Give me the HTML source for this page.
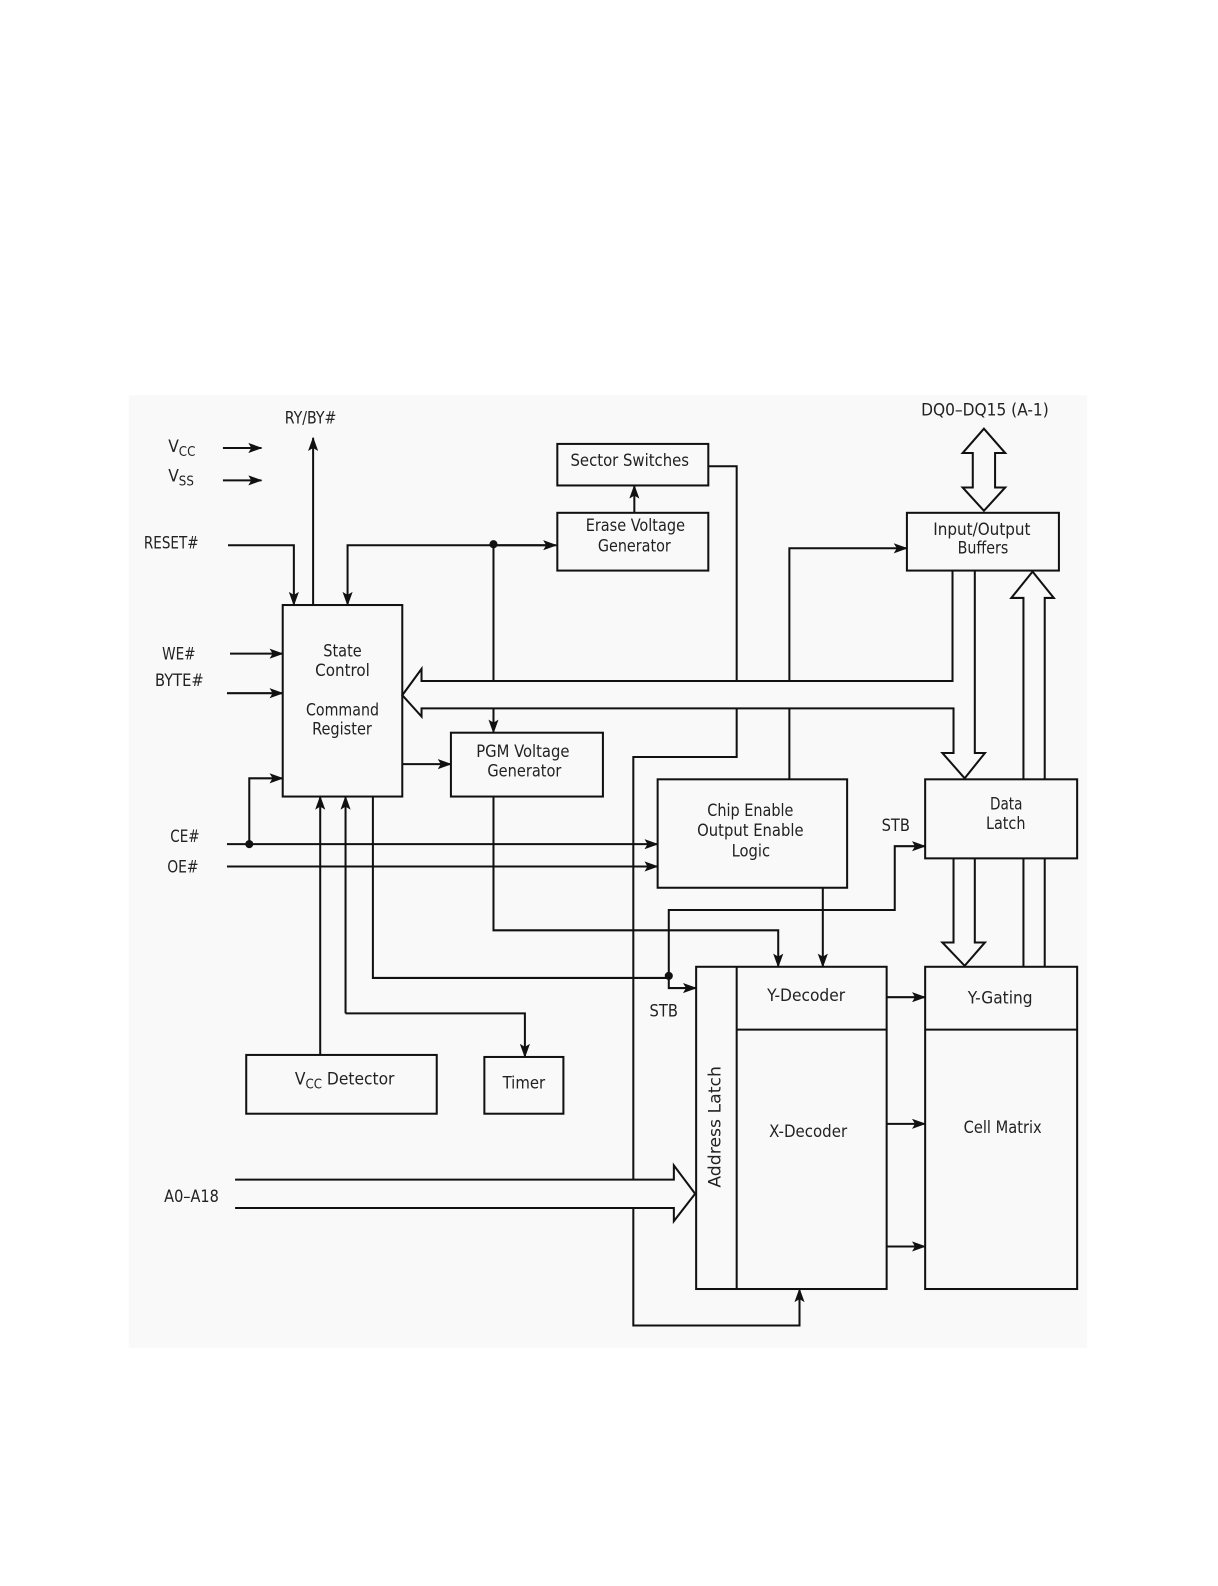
<!DOCTYPE html>
<html><head><meta charset="utf-8"><style>
html,body{margin:0;padding:0;background:#fff;}
svg{display:block;}
text{font-family:"DejaVu Sans Condensed","DejaVu Sans","Liberation Sans",sans-serif;font-size:17px;fill:#222;}
</style></head><body>
<svg width="1218" height="1586" viewBox="0 0 1202 1565" xmlns="http://www.w3.org/2000/svg">
<defs>
<marker id="a" markerUnits="userSpaceOnUse" markerWidth="14" markerHeight="10" refX="13" refY="5" orient="auto">
<path d="M0,0 L14,5 L0,10 L3,5 Z" fill="#111"/></marker>
</defs>
<rect x="127" y="390" width="946" height="940" fill="#f9f9f9"/>
<g fill="none" stroke="#111" stroke-width="2">
<!-- boxes -->
<rect x="279" y="597" width="118" height="189"/>
<rect x="550" y="438" width="149" height="41"/>
<rect x="550" y="506" width="149" height="57"/>
<rect x="445" y="723" width="150" height="63"/>
<rect x="649" y="769" width="187" height="107"/>
<rect x="895" y="506" width="150" height="57"/>
<rect x="913" y="769" width="150" height="78"/>
<rect x="687" y="954" width="188" height="318"/>
<line x1="727" y1="954" x2="727" y2="1272"/>
<line x1="727" y1="1016" x2="875" y2="1016"/>
<rect x="913" y="954" width="150" height="318"/>
<line x1="913" y1="1016" x2="1063" y2="1016"/>
<rect x="243" y="1041" width="188" height="58"/>
<rect x="478" y="1043" width="78" height="56"/>
<!-- simple arrows -->
<line x1="220" y1="442" x2="258" y2="442" marker-end="url(#a)"/>
<line x1="220" y1="474" x2="258" y2="474" marker-end="url(#a)"/>
<line x1="309" y1="597" x2="309" y2="432" marker-end="url(#a)"/>
<polyline points="225,538 290,538 290,597" marker-end="url(#a)"/>
<polyline points="547,538 343,538 343,597" marker-end="url(#a)" />
<line x1="487" y1="538" x2="549" y2="538" marker-end="url(#a)"/>
<line x1="487" y1="538" x2="487" y2="672"/>
<line x1="487" y1="699" x2="487" y2="723" marker-end="url(#a)"/>
<line x1="626" y1="506" x2="626" y2="479" marker-end="url(#a)"/>
<line x1="227" y1="645" x2="279" y2="645" marker-end="url(#a)"/>
<line x1="224" y1="684" x2="279" y2="684" marker-end="url(#a)"/>
<polyline points="246,833 246,768 279,768" marker-end="url(#a)"/>
<line x1="397" y1="754" x2="445" y2="754" marker-end="url(#a)"/>
<line x1="224" y1="833" x2="649" y2="833" marker-end="url(#a)"/>
<line x1="224" y1="855" x2="649" y2="855" marker-end="url(#a)"/>
<line x1="316" y1="1041" x2="316" y2="786" marker-end="url(#a)"/>
<line x1="341" y1="1000" x2="341" y2="786" marker-end="url(#a)"/>
<polyline points="341,1000 518,1000 518,1043" marker-end="url(#a)"/>
<polyline points="368,786 368,965 660,965"/>
<polyline points="660,965 660,898 883,898 883,835 913,835" marker-end="url(#a)"/>
<polyline points="660,965 660,975 687,975" marker-end="url(#a)"/>
<polyline points="487,786 487,918 768,918 768,954" marker-end="url(#a)"/>
<line x1="812" y1="876" x2="812" y2="954" marker-end="url(#a)"/>
<polyline points="779,672 779,541 895,541" marker-end="url(#a)"/>
<line x1="779" y1="699" x2="779" y2="769"/>
<polyline points="699,460 727,460 727,672"/>
<polyline points="727,699 727,747 625,747 625,1164"/>
<polyline points="625,1192 625,1308 789,1308 789,1272" marker-end="url(#a)"/>
<line x1="875" y1="984" x2="913" y2="984" marker-end="url(#a)"/>
<line x1="875" y1="1109" x2="913" y2="1109" marker-end="url(#a)"/>
<line x1="875" y1="1230" x2="913" y2="1230" marker-end="url(#a)"/>
<!-- bus to state control -->
<polyline points="940,563 940,672 416,672 416,660 397,686 416,707 416,699 941,699 941,743 930,743 952,768 972,743 962,743 962,563"/>
<!-- up bus data latch to IO -->
<polyline points="1010,769 1010,590 998,590 1019,564 1040,590 1031,590 1031,769"/>
<!-- DQ double arrow -->
<polygon points="971,423 992,447 982,447 982,481 992,481 971,504 950,481 960,481 960,447 950,447"/>
<!-- latch to Y-gating -->
<polyline points="941,847 941,930 930,930 952,953 972,930 962,930 962,847"/>
<line x1="1010" y1="847" x2="1010" y2="954"/>
<line x1="1031" y1="847" x2="1031" y2="954"/>
<!-- address bus -->
<polyline points="232,1164 665,1164 665,1150 686,1178 665,1205 665,1192 232,1192"/>
</g>
<circle cx="487" cy="537" r="4" fill="#111"/>
<circle cx="246" cy="833" r="4" fill="#111"/>
<circle cx="660" cy="963" r="4" fill="#111"/>
<!-- labels -->
<text x="281" y="418" textLength="51" lengthAdjust="spacingAndGlyphs">RY/BY#</text>
<text x="166" y="446">V<tspan font-size="13" dy="4">CC</tspan></text>
<text x="166" y="475">V<tspan font-size="13" dy="4">SS</tspan></text>
<text x="142" y="541" textLength="54" lengthAdjust="spacingAndGlyphs">RESET#</text>
<text x="160" y="651" textLength="33" lengthAdjust="spacingAndGlyphs">WE#</text>
<text x="153" y="677" textLength="48" lengthAdjust="spacingAndGlyphs">BYTE#</text>
<text x="168" y="831" textLength="29" lengthAdjust="spacingAndGlyphs">CE#</text>
<text x="165" y="861" textLength="31" lengthAdjust="spacingAndGlyphs">OE#</text>
<text x="162" y="1186" textLength="54" lengthAdjust="spacingAndGlyphs">A0–A18</text>
<text x="319" y="648" textLength="38" lengthAdjust="spacingAndGlyphs">State</text>
<text x="311" y="667" textLength="54" lengthAdjust="spacingAndGlyphs">Control</text>
<text x="302" y="706" textLength="72" lengthAdjust="spacingAndGlyphs">Command</text>
<text x="308" y="725" textLength="59" lengthAdjust="spacingAndGlyphs">Register</text>
<text x="563" y="460" textLength="117" lengthAdjust="spacingAndGlyphs">Sector Switches</text>
<text x="578" y="524" textLength="98" lengthAdjust="spacingAndGlyphs">Erase Voltage</text>
<text x="590" y="544" textLength="72" lengthAdjust="spacingAndGlyphs">Generator</text>
<text x="470" y="747" textLength="92" lengthAdjust="spacingAndGlyphs">PGM Voltage</text>
<text x="481" y="766" textLength="73" lengthAdjust="spacingAndGlyphs">Generator</text>
<text x="909" y="410" textLength="126" lengthAdjust="spacingAndGlyphs">DQ0–DQ15 (A-1)</text>
<text x="921" y="528" textLength="96" lengthAdjust="spacingAndGlyphs">Input/Output</text>
<text x="945" y="546" textLength="50" lengthAdjust="spacingAndGlyphs">Buffers</text>
<text x="698" y="805" textLength="85" lengthAdjust="spacingAndGlyphs">Chip Enable</text>
<text x="688" y="825" textLength="105" lengthAdjust="spacingAndGlyphs">Output Enable</text>
<text x="722" y="845" textLength="38" lengthAdjust="spacingAndGlyphs">Logic</text>
<text x="870" y="820" textLength="28" lengthAdjust="spacingAndGlyphs">STB</text>
<text x="977" y="799" textLength="32" lengthAdjust="spacingAndGlyphs">Data</text>
<text x="973" y="818" textLength="39" lengthAdjust="spacingAndGlyphs">Latch</text>
<text x="641" y="1003" textLength="28" lengthAdjust="spacingAndGlyphs">STB</text>
<text x="757" y="988" textLength="77" lengthAdjust="spacingAndGlyphs">Y-Decoder</text>
<text x="759" y="1122" textLength="77" lengthAdjust="spacingAndGlyphs">X-Decoder</text>
<text x="955" y="990" textLength="64" lengthAdjust="spacingAndGlyphs">Y-Gating</text>
<text x="951" y="1118" textLength="77" lengthAdjust="spacingAndGlyphs">Cell Matrix</text>
<text transform="translate(711,1172) rotate(-90)" textLength="120" lengthAdjust="spacingAndGlyphs">Address Latch</text>
<text x="291" y="1070">V<tspan font-size="13" dy="4">CC</tspan><tspan dy="-4"> Detector</tspan></text>
<text x="496" y="1074" textLength="42" lengthAdjust="spacingAndGlyphs">Timer</text>
</svg>
</body></html>
